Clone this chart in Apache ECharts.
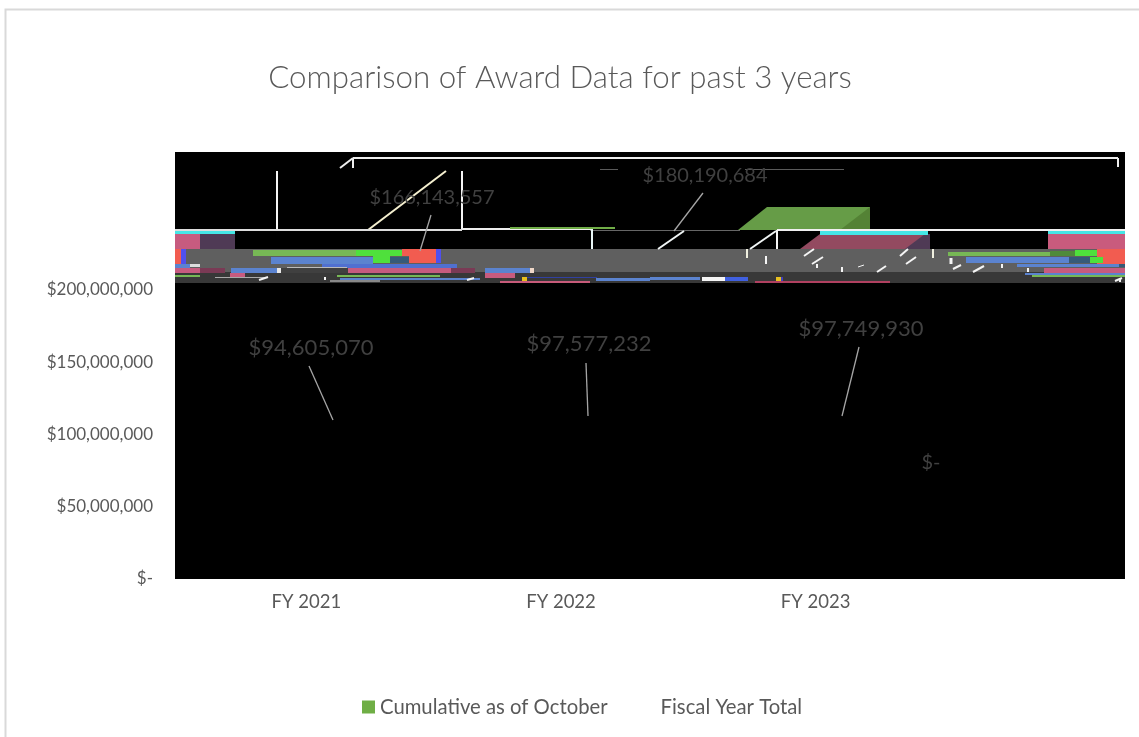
<!DOCTYPE html>
<html><head><meta charset="utf-8">
<style>html,body{margin:0;padding:0;background:#fff}#c{width:1139px;height:737px}</style>
<script src="https://cdn.jsdelivr.net/npm/echarts@6/dist/echarts.min.js"></script>
</head><body><div id="c"></div>
<script>
const categories = ['FY 2021', 'FY 2022', 'FY 2023'];
const cumulativeValues = [94605070, 97577232, 97749930];
const fiscalTotalValues = [166143557, 180190684, 0];
const yTicks = [0, 50000000, 100000000, 150000000, 200000000];

const FONT = 'Lato';
const cumulativeLabelPos = [[311, 348], [589, 344], [861, 329]];
const totalLabelPos = [[432, 198], [705, 176], [931, 463]];

// scrambled rendering artefacts of the reference, as decoration: [x, y, w, h, colour]
const artefactRects = [
  [175,249,950,23,'#5f5f5f'], [175,272,950,11,'#383838'],
  [175,231,60,4,'#45e6e6'], [175,234,25,15,'#c75b7f'], [200,234,35,15,'#4f3a55'],
  [820,231,108,4,'#45e6e6'], [1048,231,77,4,'#45e6e6'], [1048,234,77,15,'#c95b7d'],
  [175,249,6,15,'#f25c50'], [181,249,5,15,'#5050ee'],
  [253,250,103,6,'#77b855'], [356,250,46,6,'#4fe03c'], [402,249,34,7,'#f25c50'],
  [436,249,5,14,'#5050ee'], [271,257,102,7,'#5b83cf'], [373,256,17,7,'#4fe03c'],
  [390,257,19,6,'#365a78'], [409,256,27,7,'#f25c50'], [322,264,135,4,'#5070d0'],
  [190,264,10,3,'#dddddd'], [175,264,15,4,'#5b83cf'], [281,268,67,5,'#404040'],
  [175,268,25,5,'#c75b7f'], [200,268,25,5,'#7a3a55'], [231,268,46,5,'#5b83cf'],
  [277,268,4,5,'#e8e8e8'], [348,268,103,5,'#c75b7f'], [451,268,24,5,'#7a3a55'],
  [485,268,45,5,'#5b83cf'], [530,268,4,5,'#f0d8c8'], [287,267,60,1,'#bbbbbb'],
  [175,275,25,2,'#77b855'], [230,273,15,5,'#c75b7f'], [337,275,103,2,'#77b855'],
  [215,277,50,1,'#aaaaaa'], [330,280,50,2,'#888888'],
  [340,278,140,2,'#5b83cf'], [485,273,30,5,'#c75b7f'], [596,278,54,3,'#5b83cf'],
  [650,277,50,3,'#5b83cf'], [702,277,23,4,'#f5f5f5'], [725,277,23,4,'#4060e0'],
  [500,281,90,2,'#c75b7a'], [755,281,135,2,'#b04060'], [776,277,5,4,'#e8c020'],
  [781,277,2,4,'#4040c0'], [522,277,5,4,'#e8c020'], [527,277,70,1,'#3040a0'],
  [948,252,102,4,'#77b855'], [1050,251,25,5,'#4f8a3a'], [1075,250,22,6,'#4fe03c'],
  [1097,249,28,15,'#f25c50'], [966,257,103,6,'#5b83cf'], [1069,257,21,6,'#365a78'],
  [1090,257,13,6,'#4fe03c'], [1017,264,102,3,'#5b83cf'], [1119,264,6,3,'#365a78'],
  [1044,268,81,5,'#c75b7f'], [1025,273,100,2,'#5b83cf'], [1032,275,93,2,'#77b855'],
  [590,230,150,1,'#666666'], [600,169,18,1,'#5a5a5a'],
  [745,169,99,1,'#5a5a5a']
];
// [x1, y1, x2, y2, colour, width]
const artefactLines = [
  [353,158,1118,158,'#eeeeee',2], [353,158,353,168,'#eeeeee',2], [340,168,353,158,'#eeeeee',2],
  [1118,158,1118,167,'#eeeeee',2], [277,171,277,230,'#f5f5f5',2], [462,171,462,230,'#f5f5f5',2],
  [368,230,446,171,'#f5f0d0',2], [175,230,462,230,'#dddddd',2], [462,229,592,229,'#eeeeee',2],
  [592,229,592,249,'#e8f5f5',2], [777,230,1125,230,'#f0f0f0',2], [777,230,777,249,'#f5f5f5',2],
  [658,249,684,231,'#f0f5f5',2], [750,249,776,231,'#f0f5f5',2],
  [747,249,747,258,'#f0f0e0',2], [766,256,766,264,'#f5f5f5',2], [804,256,814,249,'#f5f5f5',2],
  [812,264,823,257,'#f5f5f5',2], [817,268,817,264,'#f5f5f5',2], [842,272,842,267,'#f5f5f5',2],
  [858,267,864,265,'#f5f5f5',1], [877,272,886,266,'#f5f5f5',2], [900,256,908,249,'#f5f5f5',2],
  [906,264,916,257,'#f5f5f5',2], [933,249,933,258,'#f0f0e0',2], [951,258,951,264,'#f5f5f5',3],
  [953,269,961,265,'#f5f5f5',2], [973,272,984,266,'#f5f5f5',2], [1002,264,1002,268,'#f5f5f5',2],
  [1028,272,1028,268,'#f5f5f5',2], [1120,278,1120,282,'#f5f5f5',2], [1115,281,1122,278,'#f5f5f5',2],
  [259,280,268,277,'#f5f5f5',2], [325,280,325,277,'#f5f5f5',2], [467,280,474,278,'#f5f5f5',2],
  [510,228,615,228,'#70ad47',2]
];
const artefactPolys = [
  [[[738,230],[767,207],[870,207],[870,230]],'#669c47'],
  [[[840,230],[870,207],[870,230]],'#548235'],
  [[[800,249],[820,234],[925,234],[930,249]],'#934a60'],
  [[[905,249],[925,234],[930,234],[930,249]],'#4f3a55'],
  [[[200,238],[206,232],[211,232],[204,239]],'#4fe03c'],
  [[[374,263],[385,255],[402,255],[392,263]],'#4fe03c'],
  [[[1085,264],[1098,256],[1103,263],[1095,265]],'#4fe03c']
];
// leader lines of the data labels: [x1, y1, x2, y2]
const leaderLines = [
  [309,366,333,420], [586,363,588,416], [859,347,842,416],
  [431,215,420,251], [703,193,674,231]
];

const graphicElements = [
  {type:'rect', shape:{x:5.5,y:9.5,width:1200,height:800}, style:{fill:'#fff',stroke:'#d9d9d9',lineWidth:2}},
  {type:'rect', shape:{x:175,y:152,width:950,height:427}, style:{fill:'#000'}},
  ...artefactPolys.map(p=>({type:'polygon', shape:{points:p[0]}, style:{fill:p[1]}})),
  ...artefactRects.map(r=>({type:'rect', shape:{x:r[0],y:r[1],width:r[2],height:r[3]}, style:{fill:r[4]}})),
  ...artefactLines.map(l=>({type:'line', shape:{x1:l[0],y1:l[1],x2:l[2],y2:l[3]}, style:{stroke:l[4],lineWidth:l[5]}})),
  ...leaderLines.map(l=>({type:'line', z:5, shape:{x1:l[0],y1:l[1],x2:l[2],y2:l[3]}, style:{stroke:'#a6a6a6',lineWidth:1.3}}))
];

const money = v => v === 0 ? '$-' : '$' + v.toLocaleString('en-US');
const barLabel = {show:true, formatter:p=>money(p.value), color:'#404040', fontFamily:FONT, fontSize:22, position:'top'};
const totalLabel = Object.assign({}, barLabel, {fontSize:20});
const layoutFrom = pos => params => ({x:pos[params.dataIndex][0], y:pos[params.dataIndex][1], align:'center', verticalAlign:'middle'});

const chart = echarts.init(document.getElementById('c'), null, {renderer:'canvas'});
chart.setOption({
  animation:false,
  backgroundColor:'#fff',
  title:{text:'Comparison of Award Data for past 3 years', left:555, top:57, textAlign:'center',
    textStyle:{fontFamily:FONT, fontSize:31.3, fontWeight:300, color:'#595959'}},
  legend:{left:357, top:692, itemWidth:13, itemHeight:13, itemGap:35, icon:'rect',
    textStyle:{fontFamily:FONT, fontSize:20.3, color:'#595959', padding:[0,0,0,0]},
    data:[{name:'Cumulative as of October', itemStyle:{color:'#6fae45'}},
          {name:'Fiscal Year Total', itemStyle:{color:'#ffffff'}}]},
  grid:{left:179, top:290, width:764, height:289},
  xAxis:{type:'category', data:categories, axisLine:{show:false}, axisTick:{show:false},
    axisLabel:{color:'#595959', fontFamily:FONT, fontSize:18.5, margin:14}},
  yAxis:{type:'value', min:yTicks[0], max:yTicks[yTicks.length-1], interval:yTicks[1]-yTicks[0],
    splitLine:{show:false}, axisLine:{show:false}, axisTick:{show:false},
    axisLabel:{color:'#595959', fontFamily:FONT, fontSize:17, margin:26, formatter:v=>money(v)}},
  graphic:{elements:graphicElements},
  series:[
    {name:'Cumulative as of October', type:'bar', data:cumulativeValues, z:1, barWidth:90, barGap:'25%',
     itemStyle:{color:'#000'}, label:barLabel, labelLayout:layoutFrom(cumulativeLabelPos)},
    {name:'Fiscal Year Total', type:'bar', data:fiscalTotalValues, z:1, barWidth:90,
     itemStyle:{color:'#000'}, label:totalLabel, labelLayout:layoutFrom(totalLabelPos)}
  ]
});
</script></body></html>
